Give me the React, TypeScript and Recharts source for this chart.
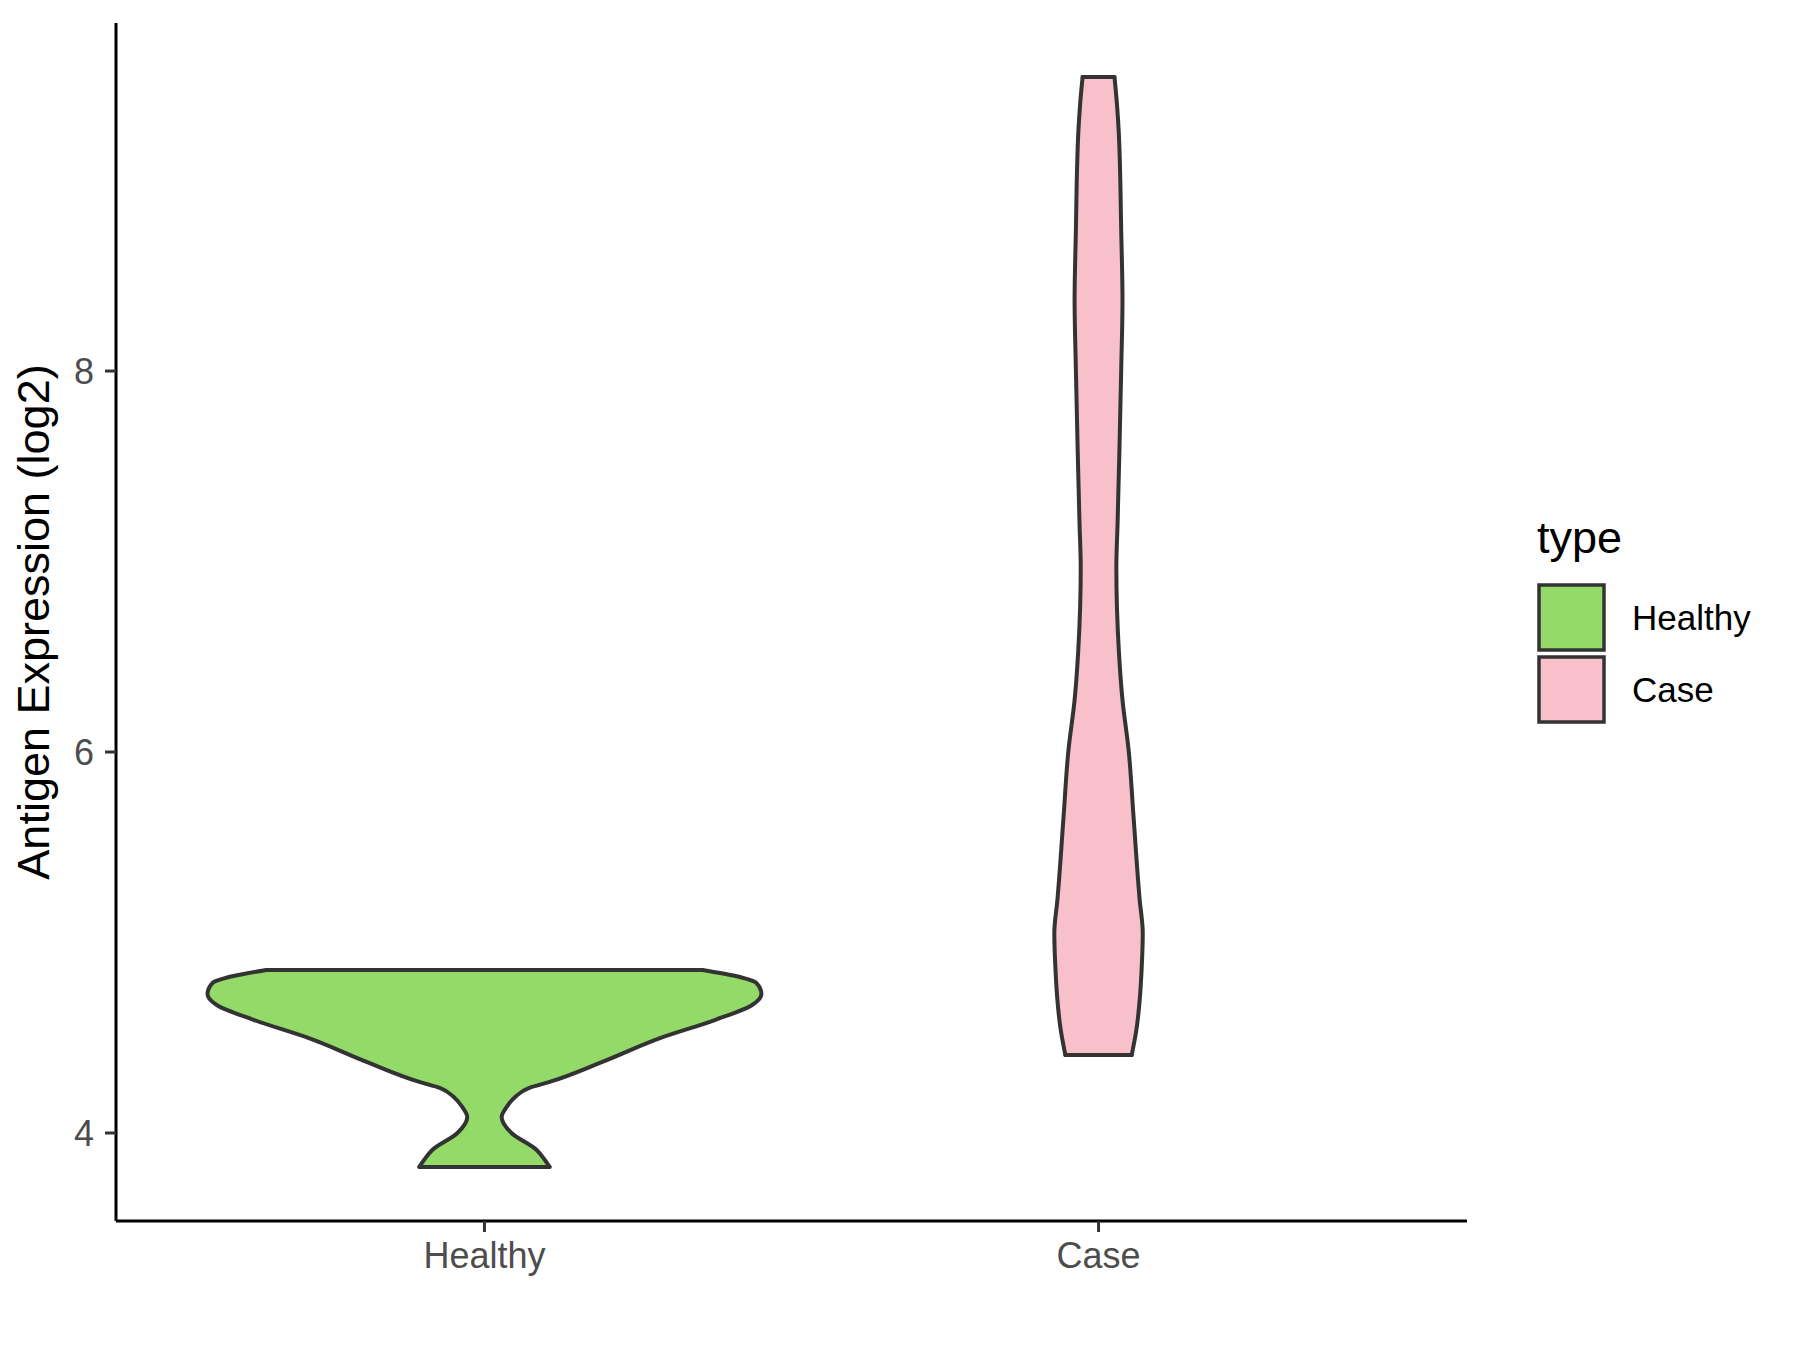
import { Area, ComposedChart, Line, XAxis, YAxis } from 'recharts'

const FONT = '"Liberation Sans", Arial, Helvetica, sans-serif'

const categories = ['Healthy', 'Case']
const colors = ['#93DA69', '#F7C0CB']
const yTicks = [4, 6, 8]

// violin outlines: expression level (log2) and half width in category units
const healthyLevels = [4.856, 4.824, 4.787, 4.73, 4.672, 4.593, 4.499, 4.373, 4.268, 4.236, 4.189, 4.136, 4.084, 4.0, 3.911, 3.86, 3.822]
const healthyHalfWidths = [0.355, 0.409, 0.443, 0.451, 0.436, 0.375, 0.287, 0.192, 0.106, 0.072, 0.05, 0.036, 0.028, 0.044, 0.085, 0.098, 0.106]

const caseLevels = [9.543, 9.4, 9.249, 8.724, 8.373, 8.021, 7.585, 7.2, 6.971, 6.535, 6.273, 6.01, 5.659, 5.223, 5.05, 4.85, 4.698, 4.55, 4.409]
const caseHalfWidths = [0.026, 0.03, 0.033, 0.037, 0.039, 0.037, 0.034, 0.031, 0.029, 0.033, 0.039, 0.049, 0.057, 0.067, 0.072, 0.07, 0.067, 0.062, 0.054]

const Y_DOMAIN: [number, number] = [3.538, 9.827]
const X_DOMAIN: [number, number] = [0.4, 2.6]

const violins = [
  { name: categories[0], levels: healthyLevels, widths: healthyHalfWidths, color: colors[0] },
  { name: categories[1], levels: caseLevels, widths: caseHalfWidths, color: colors[1] },
]

const fillRows = (levels: number[], widths: number[], c: number) =>
  levels.map((v, i) => ({ v, span: [c - widths[i], c + widths[i]] }))

const sideRows = (levels: number[], widths: number[], c: number, sign: number) =>
  levels.map((v, i) => ({ v, x: c + sign * widths[i] }))

// flat ends of the violin (trimmed at the data range)
const capRows = (levels: number[], widths: number[], c: number, idx: number) => [
  { v: levels[idx], x: c - widths[idx] },
  { v: levels[idx], x: c + widths[idx] },
]

function YTitle(props: any) {
  const vb = props.viewBox || { x: 0, y: 23, width: 116, height: 1198 }
  const x = vb.x + 49
  const y = vb.y + vb.height / 2
  return (
    <text x={x} y={y} transform={`rotate(-90, ${x}, ${y})`} textAnchor="middle" fontSize={45} fontFamily={FONT} fill="#000">
      Antigen Expression (log2)
    </text>
  )
}

function TypeLegend() {
  return (
    <svg width={300} height={260} style={{ position: 'absolute', left: 1500, top: 500 }}>
      <text x={37} y={53} fontSize={45} fontFamily={FONT} fill="#000">type</text>
      {categories.map((c, i) => (
        <g key={c}>
          <rect x={39} y={85 + i * 72} width={65} height={65} fill={colors[i]} stroke="#333333" strokeWidth={3.5} />
          <text x={132} y={130 + i * 72} fontSize={35} fontFamily={FONT} fill="#000">{c}</text>
        </g>
      ))}
    </svg>
  )
}

const edgeProps = {
  dataKey: 'x',
  stroke: '#333333',
  strokeWidth: 4,
  strokeLinecap: 'round' as const,
  dot: false,
  activeDot: false,
  legendType: 'none' as const,
  isAnimationActive: false,
}

export default function App() {
  return (
    <div style={{ position: 'absolute', left: 0, top: 0, width: 1800, height: 1350, background: '#fff' }}>
      <ComposedChart layout="vertical" width={1800} height={1350} margin={{ top: 23, right: 333, bottom: 0, left: 0 }}>
        <XAxis
          type="number"
          domain={X_DOMAIN}
          ticks={[1, 2]}
          interval={0}
          allowDataOverflow
          tickFormatter={(t: number) => categories[t - 1]}
          height={129}
          axisLine={{ stroke: '#000', strokeWidth: 3 }}
          tickLine={{ stroke: '#333333', strokeWidth: 3 }}
          tickSize={11}
          tickMargin={10}
          tick={{ fill: '#4D4D4D', fontSize: 36, fontFamily: FONT }}
        />
        <YAxis
          type="number"
          dataKey="v"
          domain={Y_DOMAIN}
          ticks={yTicks}
          interval={0}
          reversed
          allowDataOverflow
          width={116}
          axisLine={{ stroke: '#000', strokeWidth: 3 }}
          tickLine={{ stroke: '#333333', strokeWidth: 3 }}
          tickSize={11}
          tickMargin={11}
          tick={{ fill: '#4D4D4D', fontSize: 36, fontFamily: FONT }}
          label={<YTitle />}
        />
        {violins.map((vl, i) => (
          <Area
            key={`fill-${vl.name}`}
            name={vl.name}
            data={fillRows(vl.levels, vl.widths, i + 1)}
            dataKey="span"
            type="monotoneY"
            fill={vl.color}
            fillOpacity={1}
            stroke="none"
            dot={false}
            activeDot={false}
            isAnimationActive={false}
          />
        ))}
        {violins.map((vl, i) => [
          <Line key={`l-${vl.name}`} data={sideRows(vl.levels, vl.widths, i + 1, -1)} type="monotoneY" {...edgeProps} />,
          <Line key={`r-${vl.name}`} data={sideRows(vl.levels, vl.widths, i + 1, 1)} type="monotoneY" {...edgeProps} />,
          <Line key={`t-${vl.name}`} data={capRows(vl.levels, vl.widths, i + 1, 0)} type="linear" {...edgeProps} />,
          <Line key={`b-${vl.name}`} data={capRows(vl.levels, vl.widths, i + 1, vl.levels.length - 1)} type="linear" {...edgeProps} />,
        ])}
      </ComposedChart>
      <TypeLegend />
    </div>
  )
}
